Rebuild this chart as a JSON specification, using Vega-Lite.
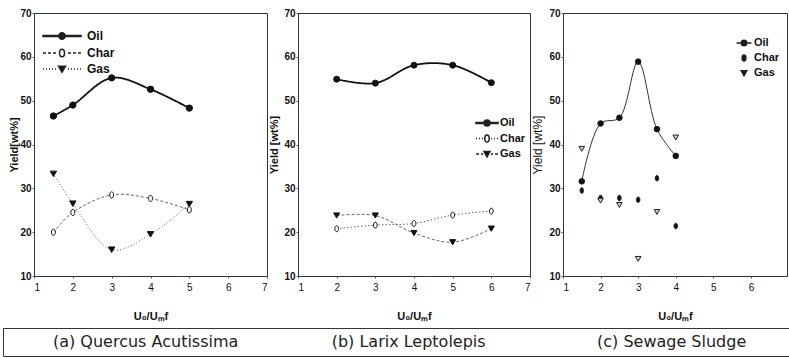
{
  "$schema": "https://vega.github.io/schema/vega-lite/v6.json",
  "background": "white",
  "padding": {"left": 2, "top": 7, "right": 0, "bottom": 0},
  "datasets": {
    "quercus": [
      {"ratio": 1.5, "series": "Oil", "yield": 46.5},
      {"ratio": 2, "series": "Oil", "yield": 49.0},
      {"ratio": 3, "series": "Oil", "yield": 55.2},
      {"ratio": 4, "series": "Oil", "yield": 52.6},
      {"ratio": 5, "series": "Oil", "yield": 48.3},
      {"ratio": 1.5, "series": "Char", "yield": 20.0},
      {"ratio": 2, "series": "Char", "yield": 24.5},
      {"ratio": 3, "series": "Char", "yield": 28.5},
      {"ratio": 4, "series": "Char", "yield": 27.7},
      {"ratio": 5, "series": "Char", "yield": 25.1},
      {"ratio": 1.5, "series": "Gas", "yield": 33.3},
      {"ratio": 2, "series": "Gas", "yield": 26.5},
      {"ratio": 3, "series": "Gas", "yield": 16.0},
      {"ratio": 4, "series": "Gas", "yield": 19.5},
      {"ratio": 5, "series": "Gas", "yield": 26.4}
    ],
    "larix": [
      {"ratio": 2, "series": "Oil", "yield": 54.9},
      {"ratio": 3, "series": "Oil", "yield": 54.0},
      {"ratio": 4, "series": "Oil", "yield": 58.1},
      {"ratio": 5, "series": "Oil", "yield": 58.1},
      {"ratio": 6, "series": "Oil", "yield": 54.1},
      {"ratio": 2, "series": "Char", "yield": 20.8},
      {"ratio": 3, "series": "Char", "yield": 21.6},
      {"ratio": 4, "series": "Char", "yield": 22.0},
      {"ratio": 5, "series": "Char", "yield": 23.9},
      {"ratio": 6, "series": "Char", "yield": 24.8},
      {"ratio": 2, "series": "Gas", "yield": 23.8},
      {"ratio": 3, "series": "Gas", "yield": 23.8},
      {"ratio": 4, "series": "Gas", "yield": 19.8},
      {"ratio": 5, "series": "Gas", "yield": 17.7},
      {"ratio": 6, "series": "Gas", "yield": 20.8}
    ],
    "sludge": [
      {"ratio": 1.5, "series": "Oil", "yield": 31.6},
      {"ratio": 2, "series": "Oil", "yield": 44.8},
      {"ratio": 2.5, "series": "Oil", "yield": 46.1},
      {"ratio": 3, "series": "Oil", "yield": 58.9},
      {"ratio": 3.5, "series": "Oil", "yield": 43.5},
      {"ratio": 4, "series": "Oil", "yield": 37.4},
      {"ratio": 1.5, "series": "Char", "yield": 29.5},
      {"ratio": 2, "series": "Char", "yield": 27.8},
      {"ratio": 2.5, "series": "Char", "yield": 27.8},
      {"ratio": 3, "series": "Char", "yield": 27.4},
      {"ratio": 3.5, "series": "Char", "yield": 32.3},
      {"ratio": 4, "series": "Char", "yield": 21.4},
      {"ratio": 1.5, "series": "Gas", "yield": 39.0},
      {"ratio": 2, "series": "Gas", "yield": 27.2},
      {"ratio": 2.5, "series": "Gas", "yield": 26.2},
      {"ratio": 3, "series": "Gas", "yield": 13.9},
      {"ratio": 3.5, "series": "Gas", "yield": 24.6},
      {"ratio": 4, "series": "Gas", "yield": 41.6}
    ],
    "captions": [
      {"panel": 1, "caption": "(a) Quercus Acutissima"},
      {"panel": 2, "caption": "(b) Larix Leptolepis"},
      {"panel": 3, "caption": "(c) Sewage Sludge"}
    ]
  },
  "concat": [
    {
      "hconcat": [
        {
          "width": 5,
          "height": 263,
          "data": {"values": []},
          "mark": "point",
          "view": {"stroke": null}
        },
        {
          "width": 233,
          "height": 263,
          "data": {"name": "quercus"},
          "encoding": {
            "x": {"field": "ratio", "type": "quantitative", "scale": {"domain": [1, 7]},
                  "axis": {"values": [1, 2, 3, 4, 5, 6, 7], "title": "U₀/Uₘf", "titlePadding": 18}},
            "y": {"field": "yield", "type": "quantitative", "scale": {"domain": [10, 70]},
                  "axis": {"values": [10, 20, 30, 40, 50, 60, 70], "title": "Yield[wt%]", "titlePadding": 0}}
          },
          "layer": [
            {
              "mark": {"type": "line", "interpolate": "catmull-rom"},
              "encoding": {
                "detail": {"field": "series", "type": "nominal"},
                "strokeDash": {"condition": [{"test": "datum.series === 'Char'", "value": [3, 2]},
                                             {"test": "datum.series === 'Gas'", "value": [1, 2]}], "value": [1, 0]},
                "strokeWidth": {"condition": {"test": "datum.series === 'Oil'", "value": 1.8}, "value": 1},
                "stroke": {"condition": {"test": "datum.series === 'Oil'", "value": "#111111"}, "value": "#666666"}
              }
            },
            {
              "mark": {"type": "point", "opacity": 1, "strokeWidth": 1, "size": 40, "stroke": "#111111"},
              "encoding": {
                "fill": {"field": "series", "type": "nominal", "legend": null,
                         "scale": {"domain": ["Oil", "Char", "Gas"], "range": ["#111111", "#ffffff", "#111111"]}},
                "shape": {"field": "series", "type": "nominal", "legend": null,
                          "scale": {"domain": ["Oil", "Char", "Gas"],
                                    "range": ["circle", "M0,-1A0.62,1 0 1,0 0,1A0.62,1 0 1,0 0,-1Z", "triangle-down"]}}
              }
            },
            {
              "transform": [{"filter": "false"}],
              "mark": {"type": "point", "filled": true, "fill": "#111111", "opacity": 1, "strokeWidth": 1, "stroke": "#222222"},
              "encoding": {
                "shape": {
                  "field": "series", "type": "nominal",
                  "scale": {"domain": ["Oil", "Char", "Gas"],
                            "range": [
                              "M-3.8,-0.1H3.8V0.1H-3.8ZM-0.65,0A0.65,0.65 0 1,1 0.65,0A0.65,0.65 0 1,1 -0.65,0Z",
                              "M-3.8,0H-3.2M-2.8,0H-2.2M-1.8,0H-1.2M1.2,0H1.8M2.2,0H2.8M3.2,0H3.8M0,-0.75A0.5,0.75 0 1,1 0,0.75A0.5,0.75 0 1,1 0,-0.75ZM0,-0.75A0.5,0.75 0 1,0 0,0.75A0.5,0.75 0 1,0 0,-0.75Z",
                              "M-3.8,0H-3.6M-3.2,0H-3M-2.6,0H-2.4M-2,0H-1.8M-1.4,0H-1.2M1.2,0H1.4M1.8,0H2M2.4,0H2.6M3,0H3.2M3.6,0H3.8M-0.7,-0.55L0.7,-0.55L0,0.65Z"
                            ]},
                  "legend": {
                    "title": null, "orient": "none", "legendX": 8, "legendY": 17, "padding": 0,
                    "symbolSize": 100, "symbolOffset": 14, "labelOffset": 19, "rowPadding": 3,
                    "labelFont": "Liberation Sans", "labelFontSize": 12, "labelFontWeight": "bold", "labelColor": "#111111"
                  }
                }
              }
            }
          ],
          "resolve": {"scale": {"shape": "independent"}}
        },
        {
          "width": 232,
          "height": 263,
          "data": {"name": "larix"},
          "encoding": {
            "x": {"field": "ratio", "type": "quantitative", "scale": {"domain": [1, 7]},
                  "axis": {"values": [1, 2, 3, 4, 5, 6, 7], "title": "U₀/Uₘf", "titlePadding": 18}},
            "y": {"field": "yield", "type": "quantitative", "scale": {"domain": [10, 70]},
                  "axis": {"values": [10, 20, 30, 40, 50, 60, 70], "title": "Yield [wt%]", "titlePadding": 4}}
          },
          "layer": [
            {
              "mark": {"type": "line", "interpolate": "catmull-rom"},
              "encoding": {
                "detail": {"field": "series", "type": "nominal"},
                "strokeDash": {"condition": [{"test": "datum.series === 'Char'", "value": [1.5, 2]},
                                             {"test": "datum.series === 'Gas'", "value": [3, 2]}], "value": [1, 0]},
                "strokeWidth": {"condition": {"test": "datum.series === 'Oil'", "value": 1.8}, "value": 1},
                "stroke": {"condition": {"test": "datum.series === 'Oil'", "value": "#111111"}, "value": "#666666"}
              }
            },
            {
              "mark": {"type": "point", "opacity": 1, "strokeWidth": 1, "size": 36, "stroke": "#111111"},
              "encoding": {
                "fill": {"field": "series", "type": "nominal", "legend": null,
                         "scale": {"domain": ["Oil", "Char", "Gas"], "range": ["#111111", "#ffffff", "#111111"]}},
                "shape": {"field": "series", "type": "nominal", "legend": null,
                          "scale": {"domain": ["Oil", "Char", "Gas"],
                                    "range": ["circle", "M0,-1A0.62,1 0 1,0 0,1A0.62,1 0 1,0 0,-1Z", "triangle-down"]}}
              }
            },
            {
              "transform": [{"filter": "false"}],
              "mark": {"type": "point", "filled": true, "fill": "#111111", "opacity": 1, "strokeWidth": 1, "stroke": "#222222"},
              "encoding": {
                "shape": {
                  "field": "series", "type": "nominal",
                  "scale": {"domain": ["Oil", "Char", "Gas"],
                            "range": [
                              "M-2.2,-0.1H2.2V0.1H-2.2ZM-0.6,0A0.6,0.6 0 1,1 0.6,0A0.6,0.6 0 1,1 -0.6,0Z",
                              "M-2.2,0H-2M-1.6,0H-1.4M-1,0H-0.8M0.8,0H1M1.4,0H1.6M2,0H2.2M0,-0.7A0.45,0.7 0 1,1 0,0.7A0.45,0.7 0 1,1 0,-0.7ZM0,-0.7A0.45,0.7 0 1,0 0,0.7A0.45,0.7 0 1,0 0,-0.7Z",
                              "M-2.2,0H-1.6M-1.2,0H-0.8M0.8,0H1.2M1.6,0H2.2M-0.6,-0.5L0.6,-0.5L0,0.6Z"
                            ]},
                  "legend": {
                    "title": null, "orient": "none", "legendX": 177, "legendY": 104, "padding": 0,
                    "symbolSize": 100, "symbolOffset": 6, "labelOffset": 7, "rowPadding": 2.5,
                    "labelFont": "Liberation Sans", "labelFontSize": 11, "labelFontWeight": "bold", "labelColor": "#111111"
                  }
                }
              }
            }
          ],
          "resolve": {"scale": {"shape": "independent"}}
        },
        {
          "width": 224,
          "height": 263,
          "data": {"name": "sludge"},
          "encoding": {
            "x": {"field": "ratio", "type": "quantitative", "scale": {"domain": [1, 6.96]},
                  "axis": {"values": [1, 2, 3, 4, 5, 6], "title": "U₀/Uₘf", "titlePadding": 18}},
            "y": {"field": "yield", "type": "quantitative", "scale": {"domain": [10, 70]},
                  "axis": {"values": [10, 20, 30, 40, 50, 60, 70], "title": "Yield [wt%]", "titlePadding": 4,
                           "titleFontWeight": "normal", "titleFontSize": 12}}
          },
          "layer": [
            {
              "transform": [{"filter": "datum.series === 'Oil'"}],
              "mark": {"type": "line", "interpolate": "catmull-rom", "stroke": "#333333", "strokeWidth": 1},
              "encoding": {}
            },
            {
              "mark": {"type": "point", "opacity": 1, "strokeWidth": 1, "size": 32, "stroke": "#222222"},
              "encoding": {
                "fill": {"field": "series", "type": "nominal", "legend": null,
                         "scale": {"domain": ["Oil", "Char", "Gas"], "range": ["#111111", "#111111", "#cccccc"]}},
                "shape": {"field": "series", "type": "nominal", "legend": null,
                          "scale": {"domain": ["Oil", "Char", "Gas"],
                                    "range": ["circle", "M0,-1A0.62,1 0 1,0 0,1A0.62,1 0 1,0 0,-1Z", "triangle-down"]}}
              }
            },
            {
              "transform": [{"filter": "false"}],
              "mark": {"type": "point", "filled": true, "fill": "#111111", "opacity": 1, "strokeWidth": 1, "stroke": "#222222"},
              "encoding": {
                "shape": {
                  "field": "series", "type": "nominal",
                  "scale": {"domain": ["Oil", "Char", "Gas"],
                            "range": [
                              "M-1.5,0H1.5M-0.55,0A0.55,0.55 0 1,1 0.55,0A0.55,0.55 0 1,1 -0.55,0Z",
                              "M0,-0.6A0.38,0.6 0 1,1 0,0.6A0.38,0.6 0 1,1 0,-0.6Z",
                              "M-0.55,-0.45L0.55,-0.45L0,0.55Z"
                            ]},
                  "legend": {
                    "title": null, "orient": "none", "legendX": 172, "legendY": 24, "padding": 0,
                    "symbolSize": 100, "symbolOffset": 3, "labelOffset": 4, "rowPadding": 3,
                    "labelFont": "Liberation Sans", "labelFontSize": 11, "labelFontWeight": "bold", "labelColor": "#111111"
                  }
                }
              }
            }
          ],
          "resolve": {"scale": {"shape": "independent"}}
        }
      ],
      "spacing": 0,
      "resolve": {
        "scale": {"shape": "independent", "fill": "independent"},
        "legend": {"shape": "independent"}
      }
    },
    {
      "width": 787,
      "height": 28,
      "data": {"name": "captions"},
      "mark": {"type": "text", "font": "DejaVu Sans", "fontSize": 16, "color": "#222222"},
      "encoding": {
        "x": {"field": "panel", "type": "quantitative", "axis": null,
              "scale": {"domain": [0.4575, 3.45]}},
        "text": {"field": "caption"}
      }
    }
  ],
  "columns": 1,
  "spacing": 5,
  "config": {
    "view": {"stroke": "#333333", "strokeWidth": 1},
    "axis": {
      "grid": false, "domain": false, "ticks": true, "tickSize": 2, "tickColor": "#555555",
      "labelFont": "Liberation Sans", "labelFontSize": 10, "labelColor": "#111111", "labelPadding": 2,
      "titleFont": "Liberation Sans", "titleFontSize": 11, "titleFontWeight": "bold", "titleColor": "#111111"
    },
    "axisX": {"labelPadding": 4},
    "axisY": {"labelFontWeight": "bold", "labelPadding": 1}
  }
}
